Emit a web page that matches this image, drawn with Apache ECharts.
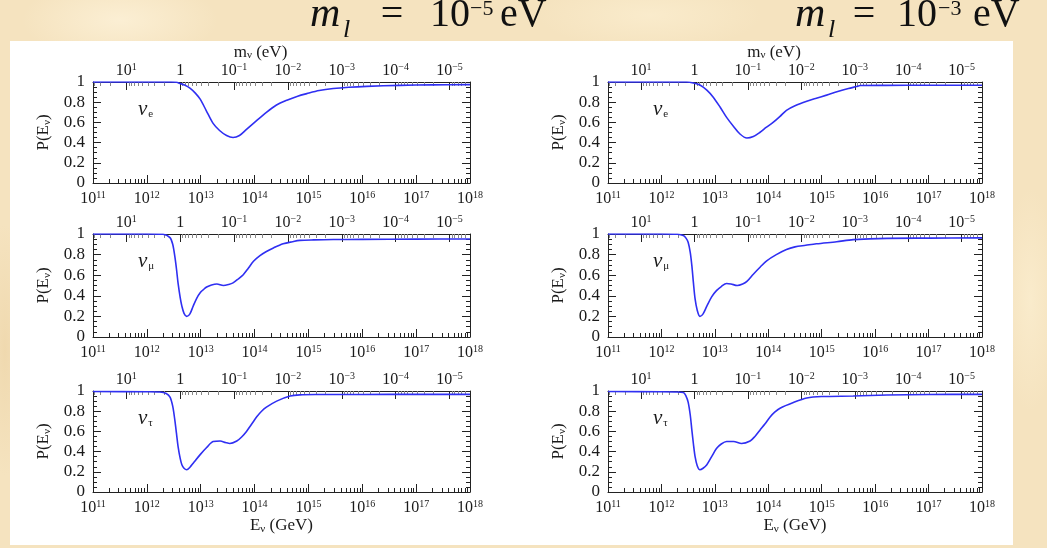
<!DOCTYPE html>
<html><head><meta charset="utf-8">
<script src="https://cdn.jsdelivr.net/npm/echarts@6/dist/echarts.min.js"></script>
<style>
html,body{margin:0;padding:0;}
body{width:1047px;height:548px;overflow:hidden;position:relative;
background-color:#f5e3bf;
background-image:
 radial-gradient(ellipse 140px 60px at 120px 20px, rgba(252,240,214,0.9), rgba(252,240,214,0) 70%),
 radial-gradient(ellipse 160px 50px at 650px 15px, rgba(250,236,205,0.9), rgba(250,236,205,0) 70%),
 radial-gradient(ellipse 40px 160px at 1030px 300px, rgba(250,236,205,0.9), rgba(250,236,205,0) 70%),
 radial-gradient(ellipse 30px 180px at 5px 350px, rgba(238,214,170,0.8), rgba(238,214,170,0) 70%);}
#white{position:absolute;left:10px;top:41px;width:1003px;height:504px;background:#fff;}
#chart{position:absolute;left:0;top:0;width:1047px;height:548px;}
</style></head>
<body><div id="white"></div><div id="chart"></div>
<script>
// ---------- data (x = log10(E_nu / GeV), y = P(E_nu)) ----------
const eLeft_logE = [11, 12, 12.45, 12.55, 12.62, 12.7, 12.8, 12.9, 12.99, 13.1, 13.23, 13.35, 13.48, 13.6, 13.72, 13.85, 14.0, 14.22, 14.4, 14.6, 14.8, 14.97, 15.2, 15.46, 15.75, 16.08, 16.7, 17.3, 18];
const eLeft_P    = [1, 1, 1, 0.997, 0.985, 0.97, 0.94, 0.89, 0.83, 0.72, 0.59, 0.52, 0.47, 0.45, 0.47, 0.53, 0.6, 0.7, 0.77, 0.82, 0.86, 0.885, 0.915, 0.935, 0.948, 0.957, 0.967, 0.972, 0.974];

const eRight_logE = [11, 12, 12.47, 12.6, 12.72, 12.85, 12.97, 13.1, 13.22, 13.35, 13.47, 13.6, 13.72, 13.84, 13.96, 14.09, 14.22, 14.34, 14.5, 14.72, 14.9, 15.09, 15.3, 15.5, 15.65, 15.72, 16.2, 17, 18];
const eRight_P    = [1, 1, 1, 0.99, 0.97, 0.92, 0.85, 0.75, 0.65, 0.56, 0.485, 0.445, 0.46, 0.5, 0.55, 0.6, 0.66, 0.72, 0.765, 0.81, 0.84, 0.87, 0.905, 0.935, 0.955, 0.965, 0.967, 0.968, 0.968];

const muLeft_logE = [11, 12, 12.3, 12.43, 12.48, 12.52, 12.55, 12.58, 12.62, 12.65, 12.69, 12.74, 12.8, 12.86, 12.93, 12.99, 13.05, 13.11, 13.2, 13.3, 13.42, 13.52, 13.6, 13.7, 13.79, 13.88, 13.98, 14.1, 14.22, 14.35, 14.53, 14.7, 14.84, 15.1, 15.46, 16, 17, 18];
const muLeft_P    = [1, 1, 0.997, 0.965, 0.9, 0.78, 0.66, 0.52, 0.38, 0.3, 0.23, 0.2, 0.225, 0.3, 0.38, 0.43, 0.46, 0.485, 0.505, 0.515, 0.5, 0.51, 0.525, 0.565, 0.605, 0.665, 0.735, 0.79, 0.83, 0.865, 0.905, 0.925, 0.938, 0.943, 0.946, 0.948, 0.95, 0.952];

const muRight_logE = [11, 12, 12.3, 12.41, 12.46, 12.5, 12.54, 12.57, 12.6, 12.63, 12.67, 12.72, 12.78, 12.85, 12.94, 13.03, 13.12, 13.22, 13.3, 13.42, 13.52, 13.6, 13.72, 13.85, 13.97, 14.15, 14.34, 14.5, 14.7, 14.9, 15.28, 15.59, 16.22, 17, 18];
const muRight_P    = [1, 1, 0.997, 0.985, 0.96, 0.92, 0.82, 0.69, 0.52, 0.37, 0.26, 0.2, 0.225, 0.3, 0.39, 0.45, 0.49, 0.52, 0.515, 0.5, 0.515, 0.54, 0.61, 0.68, 0.74, 0.8, 0.85, 0.875, 0.89, 0.905, 0.925, 0.945, 0.958, 0.96, 0.962];

const tauLeft_logE = [11, 12, 12.24, 12.36, 12.43, 12.48, 12.52, 12.55, 12.58, 12.62, 12.65, 12.69, 12.74, 12.8, 12.86, 12.99, 13.11, 13.23, 13.36, 13.46, 13.54, 13.67, 13.76, 13.85, 13.95, 14.04, 14.13, 14.22, 14.41, 14.66, 14.84, 15.2, 16, 17, 18];
const tauLeft_P    = [0.995, 0.993, 0.99, 0.975, 0.94, 0.85, 0.71, 0.58, 0.45, 0.33, 0.27, 0.235, 0.22, 0.245, 0.285, 0.37, 0.44, 0.5, 0.505, 0.49, 0.48, 0.505, 0.545, 0.6, 0.675, 0.745, 0.8, 0.84, 0.9, 0.95, 0.962, 0.965, 0.966, 0.967, 0.967];

const tauRight_logE = [11, 12, 12.25, 12.41, 12.46, 12.5, 12.54, 12.57, 12.6, 12.63, 12.67, 12.72, 12.78, 12.85, 12.94, 13.03, 13.12, 13.22, 13.35, 13.5, 13.66, 13.75, 13.84, 13.94, 14.03, 14.12, 14.22, 14.47, 14.72, 15, 15.59, 16.22, 17, 18];
const tauRight_P    = [0.995, 0.993, 0.99, 0.985, 0.95, 0.89, 0.76, 0.61, 0.47, 0.35, 0.26, 0.22, 0.235, 0.27, 0.35, 0.43, 0.475, 0.5, 0.5, 0.48, 0.505, 0.55, 0.61, 0.675, 0.74, 0.79, 0.83, 0.886, 0.93, 0.945, 0.95, 0.96, 0.965, 0.967];

// tick labels
const energyExp = [11, 12, 13, 14, 15, 16, 17, 18];   // E_nu = 10^n GeV
const massExp   = [1, 0, -1, -2, -3, -4, -5];          // m_nu = 10^k eV
const flavours  = ['e', 'μ', 'τ'];
const titleExp  = ['−5', '−3'];

// Z-burst resonance: E_res = M_Z^2 / (2 m_nu)
const MZ_GeV = 91.1876;
const LOGC = Math.log10(MZ_GeV * MZ_GeV / 2) + 9; // log10(E[GeV]*m[eV])

const panels = [
  [[eLeft_logE, eLeft_P], [eRight_logE, eRight_P]],
  [[muLeft_logE, muLeft_P], [muRight_logE, muRight_P]],
  [[tauLeft_logE, tauLeft_P], [tauRight_logE, tauRight_P]]
];

// ---------- layout ----------
const cols = [{left: 93, width: 377}, {left: 608, width: 374}];
const rows = [{top: 82, height: 101}, {top: 234, height: 103}, {top: 391, height: 101}];
const FONT = 'Liberation Serif';
const TXT = '#1a1a1a';
const AX = '#222';

const minorBottom = [];
for (let n = 11; n < 18; n++) for (let j = 2; j <= 9; j++) minorBottom.push(n + Math.log10(j));
const topMin = LOGC - 18, topMax = LOGC - 11;
const minorTop = [];
for (let k = -6; k <= 1; k++) for (let j = 2; j <= 9; j++) {
  const v = k + Math.log10(j);
  if (v > topMin && v < topMax) minorTop.push(v);
}

const rich = {
  b: {fontFamily: FONT, fontSize: 16, color: TXT, lineHeight: 18},
  s: {fontFamily: FONT, fontSize: 10, color: TXT, verticalAlign: 'top', lineHeight: 11}
};
const nameRich = {
  b: {fontFamily: FONT, fontSize: 17, color: TXT},
  u: {fontFamily: FONT, fontSize: 11, color: TXT, verticalAlign: 'bottom', padding: [7, 0, 0, 0]}
};
const fmtE = v => '{b|10}{s|' + v + '}';
const fmtM = v => v === 0 ? '{b|1}' : '{b|10}{s|' + (v < 0 ? '−' + (-v) : v) + '}';

const grids = [], xAxes = [], yAxes = [], series = [], graphics = [];
rows.forEach((r, ri) => {
  cols.forEach((c, ci) => {
    const g = grids.length;
    grids.push({left: c.left, top: r.top, width: c.width, height: r.height, containLabel: false});
    const line = {show: true, onZero: false, lineStyle: {color: AX, width: 1}};
    const noLine = {show: false, onZero: false};
    // bottom major
    xAxes.push({
      gridIndex: g, type: 'value', position: 'bottom', min: 11, max: 18,
      axisLine: line, splitLine: {show: false},
      axisTick: {show: true, inside: true, length: 8, customValues: energyExp, lineStyle: {color: AX}},
      axisLabel: {show: true, customValues: energyExp, formatter: fmtE, margin: 7, rich: rich},
      name: ri === 2 ? '{b|E}{u|ν}{b| (GeV)}' : '',
      nameLocation: 'middle', nameGap: 24,
      nameTextStyle: {rich: nameRich}
    });
    // bottom minor
    xAxes.push({
      gridIndex: g, type: 'value', position: 'bottom', min: 11, max: 18,
      axisLine: noLine, splitLine: {show: false}, axisLabel: {show: false},
      axisTick: {show: true, inside: true, length: 4, customValues: minorBottom, lineStyle: {color: AX}}
    });
    // top major (neutrino mass)
    xAxes.push({
      gridIndex: g, type: 'value', position: 'top', inverse: true, min: topMin, max: topMax,
      axisLine: line, splitLine: {show: false},
      axisTick: {show: true, inside: true, length: 8, customValues: massExp, lineStyle: {color: AX}},
      axisLabel: {show: true, customValues: massExp, formatter: fmtM, margin: 2, rich: rich},
      name: ri === 0 ? '{b|m}{u|ν}{b| (eV)}' : '',
      nameLocation: 'middle', nameGap: 16,
      nameTextStyle: {padding: [0, 42, 0, 0], rich: nameRich}
    });
    // top minor
    xAxes.push({
      gridIndex: g, type: 'value', position: 'top', inverse: true, min: topMin, max: topMax,
      axisLine: noLine, splitLine: {show: false}, axisLabel: {show: false},
      axisTick: {show: true, inside: true, length: 4, customValues: minorTop, lineStyle: {color: '#888'}}
    });
    // left y
    yAxes.push({
      gridIndex: g, type: 'value', position: 'left', min: 0, max: 1, interval: 0.2,
      axisLine: line, splitLine: {show: false},
      axisTick: {show: true, inside: true, length: 8, lineStyle: {color: AX}},
      minorTick: {show: true, splitNumber: 4, length: 4, lineStyle: {color: AX}},
      minorSplitLine: {show: false},
      axisLabel: {show: true, margin: 8, fontFamily: FONT, fontSize: 17, color: TXT},
      name: '{b|P(E}{u|ν}{b|)}', nameLocation: 'middle', nameGap: 40, nameRotate: 90,
      nameTextStyle: {rich: nameRich}
    });
    // right y
    yAxes.push({
      gridIndex: g, type: 'value', position: 'right', min: 0, max: 1, interval: 0.2,
      axisLine: line, splitLine: {show: false},
      axisTick: {show: true, inside: true, length: 8, lineStyle: {color: AX}},
      minorTick: {show: true, splitNumber: 4, length: 4, lineStyle: {color: AX}},
      axisLabel: {show: false}
    });
    const d = panels[ri][ci];
    series.push({
      type: 'line', xAxisIndex: 4 * g, yAxisIndex: 2 * g,
      data: d[0].map((x, i) => [x, d[1][i]]),
      showSymbol: false, smooth: 0.3, clip: true,
      lineStyle: {color: '#2f2ff2', width: 1.6}
    });
    graphics.push({
      type: 'text', left: c.left + 45, top: r.top + 17,
      style: {
        text: '{n|ν}{f|' + flavours[ri] + '}',
        rich: {n: {fontFamily: FONT, fontStyle: 'italic', fontSize: 21, fill: TXT},
               f: {fontFamily: FONT, fontSize: 11, fill: TXT, verticalAlign: 'bottom', padding: [9, 0, 0, 1]}}
      }
    });
  });
});

// panel-column titles: m_l = 10^k eV (pieces placed like the typeset formula)
const titleLayouts = [
  {m: 310, l: 343, eq: 392, ten: 430, sup: 470, ev: 500},
  {m: 795, l: 828, eq: 864, ten: 897, sup: 938, ev: 973}
];
titleLayouts.forEach((p, i) => {
  const base = {fontFamily: FONT, fill: '#111', verticalAlign: 'middle'};
  graphics.push({
    type: 'group', children: [
      {type: 'text', x: p.m, y: 15, style: Object.assign({}, base, {text: 'm', fontStyle: 'italic', fontSize: 42, align: 'left'})},
      {type: 'text', x: p.l, y: 30, style: Object.assign({}, base, {text: 'l', fontStyle: 'italic', fontSize: 26, align: 'left'})},
      {type: 'text', x: p.eq, y: 15, style: Object.assign({}, base, {text: '=', fontSize: 40, align: 'center'})},
      {type: 'text', x: p.ten, y: 15, style: Object.assign({}, base, {text: '10', fontSize: 40, align: 'left'})},
      {type: 'text', x: p.sup, y: 9, style: Object.assign({}, base, {text: titleExp[i], fontSize: 22, align: 'left'})},
      {type: 'text', x: p.ev, y: 15, style: Object.assign({}, base, {text: 'eV', fontSize: 40, align: 'left'})}
    ]
  });
});

const chart = echarts.init(document.getElementById('chart'), null, {renderer: 'canvas'});
chart.setOption({
  animation: false,
  backgroundColor: 'transparent',
  grid: grids, xAxis: xAxes, yAxis: yAxes, series: series, graphic: graphics
});
</script>
</body></html>
